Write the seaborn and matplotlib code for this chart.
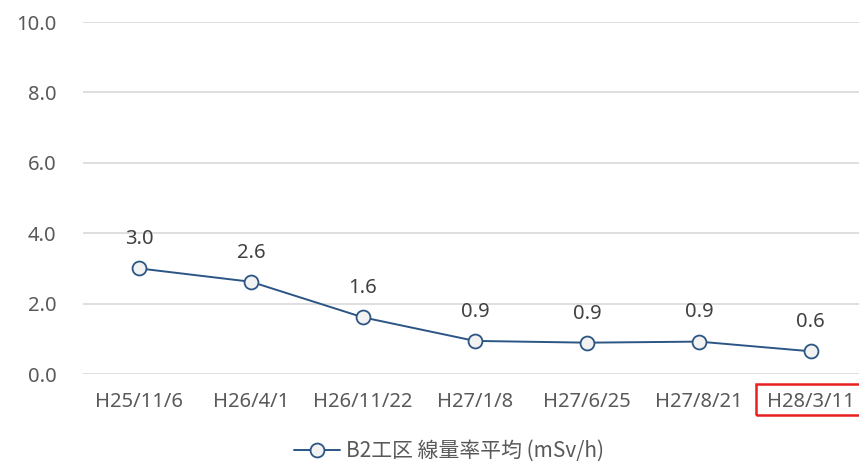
import matplotlib
matplotlib.use("Agg")
import matplotlib.pyplot as plt
import seaborn as sns
import pandas as pd
from matplotlib.patches import Rectangle

# data
dates = ["H25/11/6", "H26/4/1", "H26/11/22", "H27/1/8", "H27/6/25", "H27/8/21", "H28/3/11"]
values = [3.0, 2.62, 1.61, 0.94, 0.89, 0.92, 0.645]
labels = ["3.0", "2.6", "1.6", "0.9", "0.9", "0.9", "0.6"]
series_name = "B2工区 線量率平均 (mSv/h)"

df = pd.DataFrame({"date": dates, "value": values})
df["pos"] = range(len(df))

sns.set_style("white")
plt.rcParams["font.family"] = ["Noto Sans", "Noto Sans CJK JP", "DejaVu Sans"]

line_col = "#2B5584"
text_col = "#595959"

fig = plt.figure(figsize=(8.59, 4.62), dpi=100)
ax = fig.add_axes([83 / 859, 88 / 462, 1 - 83 / 859, 352 / 462])

sns.lineplot(data=df, x="pos", y="value", ax=ax, color=line_col, linewidth=1.4,
             marker="o", markersize=10, markerfacecolor="#F2F2F2",
             markeredgecolor=line_col, markeredgewidth=1.3, label=series_name)

for i, (v, t) in enumerate(zip(values, labels)):
    ax.annotate(t, (i, v), xytext=(0, 21), textcoords="offset points",
                ha="center", va="center", fontsize=14.5, color="#404040")

ax.set_xlim(-0.5, 6.43)
ax.set_ylim(0, 10)
ax.set_yticks([0, 2, 4, 6, 8, 10])
ax.set_yticklabels([f"{t:.1f}" for t in [0, 2, 4, 6, 8, 10]])
ax.set_xticks(range(len(dates)))
ax.set_xticklabels(dates)
ax.tick_params(axis="both", length=0, labelsize=14.5, labelcolor=text_col)
ax.tick_params(axis="x", pad=13)
ax.tick_params(axis="y", pad=19)
ax.grid(axis="y", color="#D9D9D9", linewidth=1.2)
ax.set_axisbelow(True)
for s in ax.spines.values():
    s.set_visible(False)
ax.set_xlabel("")
ax.set_ylabel("")

# red box around the last date label
fig.patches.append(Rectangle((756 / 859, (462 - 415) / 462), 120 / 859, 31 / 462,
                             transform=fig.transFigure, fill=False,
                             edgecolor="#E8201E", linewidth=1.8, clip_on=False))

ax.get_legend().remove()
h, l = ax.get_legend_handles_labels()
leg = fig.legend(h, l, loc="center", bbox_to_anchor=(0.523, 11 / 462),
                 frameon=False, handlelength=2.2, handletextpad=0.3,
                 borderpad=0, prop={"family": ["Noto Sans CJK JP"], "size": 15})
for t in leg.get_texts():
    t.set_color(text_col)

fig.savefig("out.png", dpi=100)
